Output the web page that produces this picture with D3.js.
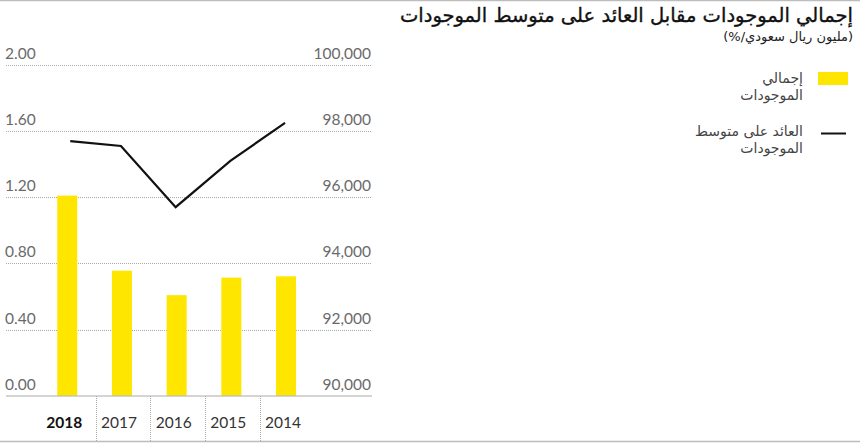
<!DOCTYPE html>
<html><head><meta charset="utf-8">
<script src="https://cdn.jsdelivr.net/npm/d3@7"></script>
<style>
body{margin:0;background:#fff;}
svg{display:block;}
</style></head>
<body><svg id="c" width="860" height="443"></svg>
<script>
const years = ["2018","2017","2016","2015","2014"];
const totalAssets = [96050, 93780, 93040, 93570, 93610];   // million SAR (right axis)
const returnOnAssets = [1.54, 1.51, 1.14, 1.42, 1.65];    // % (left axis)
const leftTicks = [0, 0.4, 0.8, 1.2, 1.6, 2.0];
const rightTicks = [90000, 92000, 94000, 96000, 98000, 100000];
const title = "إجمالي الموجودات مقابل العائد على متوسط الموجودات";
const subtitle = "(مليون ريال سعودي/%)";
const legendItems = [["إجمالي","الموجودات"],["العائد على متوسط","الموجودات"]];

const svg = d3.select("#c");
const W = 860, H = 443;
const numFont = "Lato, 'DejaVu Sans', sans-serif";
const arFont = "'DejaVu Sans', sans-serif";

// frame lines
svg.append("line").attr("x1",0).attr("x2",W).attr("y1",0.5).attr("y2",0.5).attr("stroke","#bdbdbd").attr("stroke-width",1.5);
svg.append("line").attr("x1",0).attr("x2",W).attr("y1",441.5).attr("y2",441.5).attr("stroke","#bdbdbd").attr("stroke-width",1.5);

const gx0 = 6, gx1 = 372;
const yL = d3.scaleLinear().domain([0,2]).range([395.7,65]);
const yR = d3.scaleLinear().domain([90000,100000]).range([395.7,65]);
const x = d3.scaleBand().domain(years).range([40.9,314.4]).padding(0);

// grid
leftTicks.forEach((t,i)=>{
  if(i===0) return;
  svg.append("line").attr("x1",gx0).attr("x2",gx1).attr("y1",Math.round(yL(t))+0.5).attr("y2",Math.round(yL(t))+0.5)
    .attr("stroke","#aaa").attr("stroke-width",1).attr("stroke-dasharray","1,1");
});

// left axis labels
svg.append("g").selectAll("text").data(leftTicks).join("text")
  .attr("x",5).attr("y",d=>yL(d)-6)
  .attr("font-family",numFont).attr("font-size",15.5).attr("font-weight",400).attr("fill","#6a6a6a")
  .text(d=>d3.format(".2f")(d));
// right axis labels
svg.append("g").selectAll("text").data(rightTicks).join("text")
  .attr("x",371).attr("y",d=>yR(d)-6).attr("text-anchor","end")
  .attr("font-family",numFont).attr("font-size",15.5).attr("font-weight",400).attr("fill","#6a6a6a")
  .text(d=>d3.format(",")(d));

// bars
const barW = 20;
svg.append("g").selectAll("rect").data(years).join("rect")
  .attr("x",(d)=>x(d)+x.bandwidth()/2-barW/2-1)
  .attr("y",(d,i)=>yR(totalAssets[i]))
  .attr("width",barW)
  .attr("height",(d,i)=>yR(90000)-yR(totalAssets[i]))
  .attr("fill","#ffe600");

// baseline
svg.append("line").attr("x1",gx0).attr("x2",gx1).attr("y1",396).attr("y2",396).attr("stroke","#aaa").attr("stroke-width",1);

// x dividers
years.slice(1).forEach(y=>{
  const xx = Math.round(x(y))+0.5;
  svg.append("line").attr("x1",xx).attr("x2",xx).attr("y1",396).attr("y2",441)
    .attr("stroke","#aaa").attr("stroke-width",1).attr("stroke-dasharray","1,1");
});

// x labels
svg.append("g").selectAll("text").data(years).join("text")
  .attr("x",d=>x(d)+x.bandwidth()/2-4).attr("y",427.5).attr("text-anchor","middle")
  .attr("font-family",numFont).attr("font-size",15.5)
  .attr("font-weight",(d,i)=>i===0?700:400).attr("fill",(d,i)=>i===0?"#111":"#333")
  .text(d=>d);

// line
const line = d3.line().x((d,i)=>x(years[i])+x.bandwidth()/2+(i===0?2:-2)).y(d=>yL(d));
svg.append("path").datum(returnOnAssets).attr("d",line)
  .attr("fill","none").attr("stroke","#111").attr("stroke-width",2.2);

// title (RTL: text-anchor start = right edge)
svg.append("text").attr("x",853).attr("y",22).attr("text-anchor","start").attr("direction","rtl")
  .attr("font-family",arFont).attr("font-size",19.5).attr("font-weight",400).attr("fill","#111")
  .attr("stroke","#111").attr("stroke-width",0.35).text(title);
svg.append("text").attr("x",853).attr("y",41).attr("text-anchor","start").attr("direction","rtl")
  .attr("font-family",arFont).attr("font-size",13).attr("fill","#222").text(subtitle);

// legend
svg.append("rect").attr("x",818).attr("y",72).attr("width",30).attr("height",13).attr("fill","#ffe600");
svg.append("line").attr("x1",821).attr("x2",846).attr("y1",133.5).attr("y2",133.5).attr("stroke","#111").attr("stroke-width",2);
const legY = [83, 136];
legendItems.forEach((lines,k)=>{
  lines.forEach((t,j)=>{
    svg.append("text").attr("x",803).attr("y",legY[k]+j*17).attr("text-anchor","start").attr("direction","rtl")
      .attr("font-family",arFont).attr("font-size",14).attr("fill","#444").text(t);
  });
});
</script></body></html>
